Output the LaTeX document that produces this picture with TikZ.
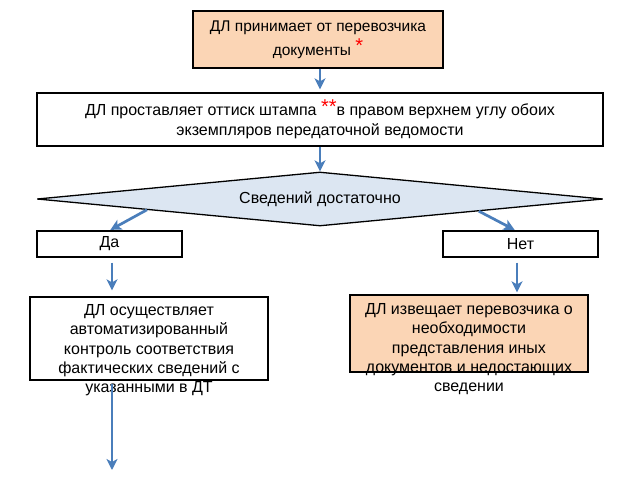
\documentclass[tikz,border=0pt]{standalone}
\usepackage{fontspec}
\setmainfont{Liberation Sans}
\usetikzlibrary{shapes.geometric,arrows.meta,calc}
\definecolor{peach}{HTML}{FBD5B5}
\definecolor{paleblue}{HTML}{DCE6F2}
\definecolor{arrowblue}{HTML}{4A7EBB}
\newcommand{\redstar}[1]{\textcolor{red}{\raisebox{0.15em}{\fontsize{20}{20}\selectfont #1}}}

\begin{document}
\begin{tikzpicture}[x=1pt,y=-1pt,
    box/.style={draw=black, line width=1.3pt, inner sep=0pt, font=\fontsize{16}{19.5}\selectfont},
    boxtext/.style={anchor=north, align=center, inner sep=0pt, font=\fontsize{16}{19.3}\selectfont},
    flow/.style={draw=arrowblue, line width=2.7pt, -{Stealth[length=11pt,width=11pt,inset=3pt]}}]
    \useasboundingbox (0,0) rectangle (640,480);

    % Top boxes
    \node (recv) at (318,39.5) [box, fill=peach, minimum width=250, minimum height=57, align=center,
        font=\fontsize{15.5}{24}\selectfont] {ДЛ принимает от перевозчика\\документы \redstar{*}};
    \node (stamp) at (320,119.5) [box, minimum width=566, minimum height=53, align=center,
        font=\fontsize{16}{20}\selectfont] {ДЛ проставляет оттиск штампа \redstar{**}в правом верхнем углу обоих\\экземпляров передаточной ведомости};

    % Decision
    \node (enough) at (320,199) [diamond, aspect=10.5, draw=black, line width=1.3pt, fill=paleblue, inner sep=0pt,
        minimum width=566, minimum height=54, font=\fontsize{16}{19}\selectfont] {Сведений достаточно};

    % Answers
    \node (yes) at (109.5,244) [box, minimum width=145, minimum height=26] {Да};
    \node (no) at (520.5,244) [box, minimum width=155, minimum height=26] {Нет};

    % Lower boxes, text runs out of them
    \node (ctrl) at (149,338.5) [box, minimum width=238, minimum height=83] {};
    \node (ctrltext) at ([yshift=-8pt]ctrl.north) [boxtext] {ДЛ осуществляет\\автоматизированный\\контроль соответствия\\фактических сведений с\\указанными в ДТ};
    \node (notify) at (469,333.5) [box, fill=peach, minimum width=238, minimum height=77] {};
    \node (notifytext) at ([yshift=-9pt]notify.north) [boxtext] {ДЛ извещает перевозчика о\\необходимости\\представления иных\\документов и недостающих\\сведении};

    % Connectors
    \draw[flow, shorten >=3pt] (recv.south -| stamp.north) -- (stamp.north);
    \draw[flow] (stamp.south) -- (enough.north);
    \draw[flow, shorten >=1pt] ($(enough.west)!0.39!(enough.south)$) -- (yes.north);
    \draw[flow, shorten >=1pt] ($(enough.east)!0.44!(enough.south)$) -- ([xshift=-5pt]no.north);
    \draw[flow, shorten <=5pt, shorten >=6pt] ([xshift=2.5pt]yes.south) -- ([xshift=2.5pt]yes.south |- ctrl.north);
    \draw[flow, shorten <=5pt, shorten >=2pt] ([xshift=-3.5pt]no.south) -- ([xshift=-3.5pt]no.south |- notify.north);
    \coordinate (exit) at (112,470);
    \draw[flow, shorten <=3pt] (ctrl.south -| exit) -- (exit);
\end{tikzpicture}
\end{document}
